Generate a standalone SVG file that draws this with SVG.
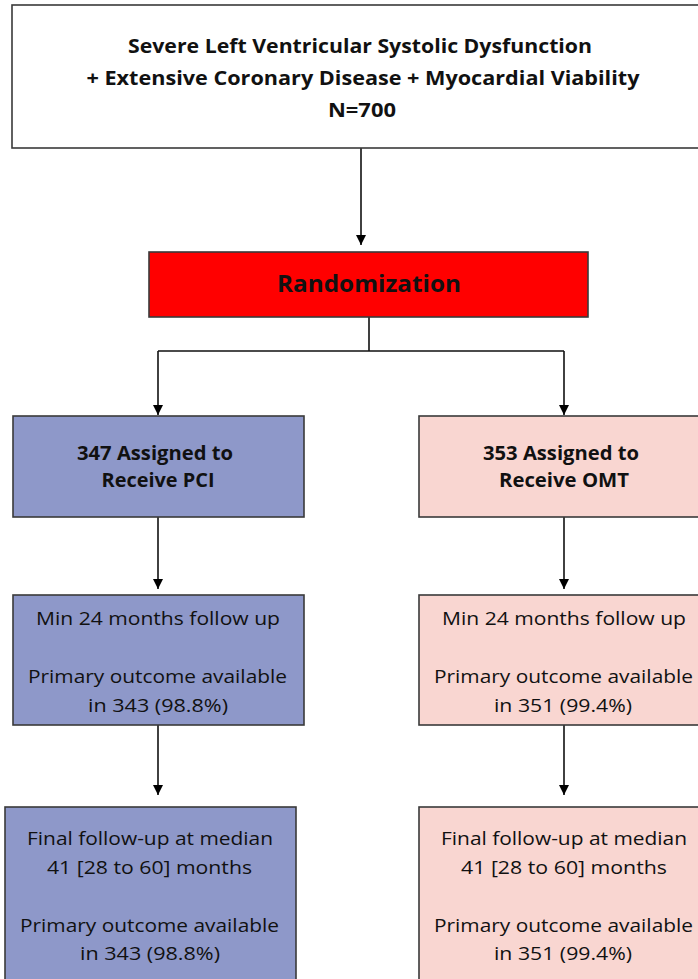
<svg xmlns="http://www.w3.org/2000/svg" width="698" height="979" viewBox="0 0 698 979">
<style>
.box{stroke:#3a3a3a;stroke-width:1.6}
.blue{fill:#8E98C9}
.pink{fill:#F9D6D1}
.t{font-family:"Open Sans","Liberation Sans",sans-serif;fill:#111;text-anchor:middle}
.b{font-weight:bold}
.s{font-size:19px}
.h{font-size:20px}
.c{fill:none;stroke:#111;stroke-width:1.6}
</style>
<defs>
<marker id="ah" markerUnits="userSpaceOnUse" markerWidth="12" markerHeight="11" refX="10" refY="5" orient="auto">
<path d="M0,0 L10,5 L0,10 Z" fill="#000"/>
</marker>
</defs>
<rect width="698" height="979" fill="#fff"/>
<g id="connectors">
<path class="c" d="M361,148 V245" marker-end="url(#ah)"/>
<path class="c" d="M369,317 V351 M158,351 H564"/>
<path class="c" d="M158,351 V415" marker-end="url(#ah)"/>
<path class="c" d="M564,351 V415" marker-end="url(#ah)"/>
<path class="c" d="M158,517 V589" marker-end="url(#ah)"/>
<path class="c" d="M564,517 V589" marker-end="url(#ah)"/>
<path class="c" d="M158,725 V795" marker-end="url(#ah)"/>
<path class="c" d="M564,725 V795" marker-end="url(#ah)"/>
</g>
<g id="population">
<rect class="box" x="12" y="5" width="698" height="143" fill="#fff"/>
<text class="t b h" x="360" y="53" textLength="464" lengthAdjust="spacingAndGlyphs">Severe Left Ventricular Systolic Dysfunction</text>
<text class="t b h" x="363" y="85" textLength="553" lengthAdjust="spacingAndGlyphs">+ Extensive Coronary Disease + Myocardial Viability</text>
<text class="t b h" x="362" y="117" textLength="68" lengthAdjust="spacingAndGlyphs">N=700</text>
</g>
<g id="randomization">
<rect class="box" x="149" y="252" width="439" height="65" fill="#FF0000"/>
<text class="t b" x="369" y="292" font-size="23" textLength="184" lengthAdjust="spacingAndGlyphs">Randomization</text>
</g>
<g id="pci-assigned">
<rect class="box blue" x="13" y="416" width="291" height="101"/>
<text class="t b s" x="155" y="460" textLength="156" lengthAdjust="spacingAndGlyphs">347 Assigned to</text>
<text class="t b s" x="158" y="487" textLength="113" lengthAdjust="spacingAndGlyphs">Receive PCI</text>
</g>
<g id="omt-assigned">
<rect class="box pink" x="419" y="416" width="291" height="101"/>
<text class="t b s" x="561" y="460" textLength="156" lengthAdjust="spacingAndGlyphs">353 Assigned to</text>
<text class="t b s" x="564" y="487" textLength="130" lengthAdjust="spacingAndGlyphs">Receive OMT</text>
</g>
<g id="pci-followup">
<rect class="box blue" x="13" y="595" width="291" height="130"/>
<text class="t s" x="158" y="625" textLength="244" lengthAdjust="spacingAndGlyphs">Min 24 months follow up</text>
<text class="t s" x="157.5" y="683" textLength="259" lengthAdjust="spacingAndGlyphs">Primary outcome available</text>
<text class="t s" x="158" y="712" textLength="140" lengthAdjust="spacingAndGlyphs">in 343 (98.8%)</text>
</g>
<g id="omt-followup">
<rect class="box pink" x="419" y="595" width="291" height="130"/>
<text class="t s" x="564" y="625" textLength="244" lengthAdjust="spacingAndGlyphs">Min 24 months follow up</text>
<text class="t s" x="563.5" y="683" textLength="259" lengthAdjust="spacingAndGlyphs">Primary outcome available</text>
<text class="t s" x="563" y="712" textLength="138" lengthAdjust="spacingAndGlyphs">in 351 (99.4%)</text>
</g>
<g id="pci-final">
<rect class="box blue" x="5" y="807" width="291" height="190"/>
<text class="t s" x="150" y="845" textLength="246" lengthAdjust="spacingAndGlyphs">Final follow-up at median</text>
<text class="t s" x="149.5" y="874" textLength="205" lengthAdjust="spacingAndGlyphs">41 [28 to 60] months</text>
<text class="t s" x="149.5" y="932" textLength="259" lengthAdjust="spacingAndGlyphs">Primary outcome available</text>
<text class="t s" x="150" y="960" textLength="140" lengthAdjust="spacingAndGlyphs">in 343 (98.8%)</text>
</g>
<g id="omt-final">
<rect class="box pink" x="419" y="807" width="291" height="190"/>
<text class="t s" x="564" y="845" textLength="246" lengthAdjust="spacingAndGlyphs">Final follow-up at median</text>
<text class="t s" x="564" y="874" textLength="206" lengthAdjust="spacingAndGlyphs">41 [28 to 60] months</text>
<text class="t s" x="563.5" y="932" textLength="259" lengthAdjust="spacingAndGlyphs">Primary outcome available</text>
<text class="t s" x="563" y="960" textLength="138" lengthAdjust="spacingAndGlyphs">in 351 (99.4%)</text>
</g>
</svg>
